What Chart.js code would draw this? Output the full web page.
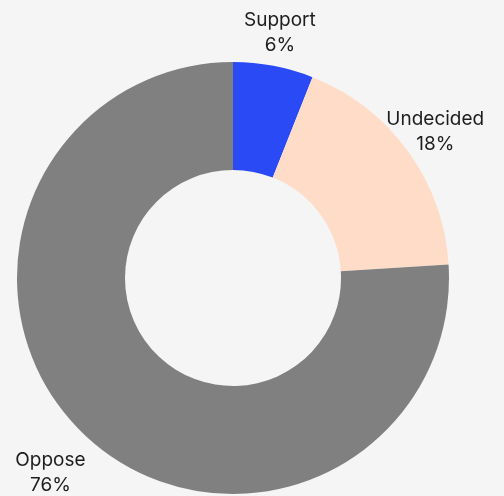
<!DOCTYPE html>
<html>
<head>
<meta charset="utf-8">
<script src="https://cdn.jsdelivr.net/npm/chart.js@4/dist/chart.umd.min.js"></script>
<style>
  html, body { margin: 0; padding: 0; background: #f5f5f5; }
  #wrap { width: 504px; height: 496px; position: relative; }
</style>
</head>
<body>
<div id="wrap"><canvas id="chart-stance"></canvas></div>
<script>
const labels = ['Support', 'Undecided', 'Oppose'];
const shares = [6, 18, 76];
const sliceColors = ['#2a4af5', '#ffdcc8', '#808080'];

/* outside labels: name + percent, placed beyond each arc's midpoint */
const outsideLabels = {
    id: 'outsideLabels',
    afterDatasetsDraw(chart) {
        const ctx = chart.ctx;
        const meta = chart.getDatasetMeta(0);
        ctx.save();
        ctx.font = "19px 'Inter', sans-serif";
        ctx.fillStyle = '#1e1e1e';
        ctx.textAlign = 'center';
        ctx.textBaseline = 'middle';
        meta.data.forEach((arc, i) => {
            const p = arc.getProps(['x', 'y', 'startAngle', 'endAngle', 'outerRadius'], true);
            const mid = (p.startAngle + p.endAngle) / 2;
            const r = p.outerRadius + 34 + Math.max(0, Math.sin(mid)) * 23;
            const x = p.x + Math.cos(mid) * r;
            const y = p.y + Math.sin(mid) * r;
            ctx.fillText(labels[i], x, y - 12);
            ctx.fillText(shares[i] + '%', x, y + 13);
        });
        ctx.restore();
    }
};

new Chart(document.getElementById('chart-stance'), {
    type: 'doughnut',
    data: { labels, datasets: [{ data: shares, backgroundColor: sliceColors, borderWidth: 0 }] },
    options: {
        responsive: true, maintainAspectRatio: false, animation: false,
        cutout: '50%',
        layout: { padding: { top: 62, bottom: 2, left: 17, right: 55 } },
        plugins: { legend: { display: false }, tooltip: { enabled: false } }
    },
    plugins: [outsideLabels]
});
</script>
</body>
</html>
